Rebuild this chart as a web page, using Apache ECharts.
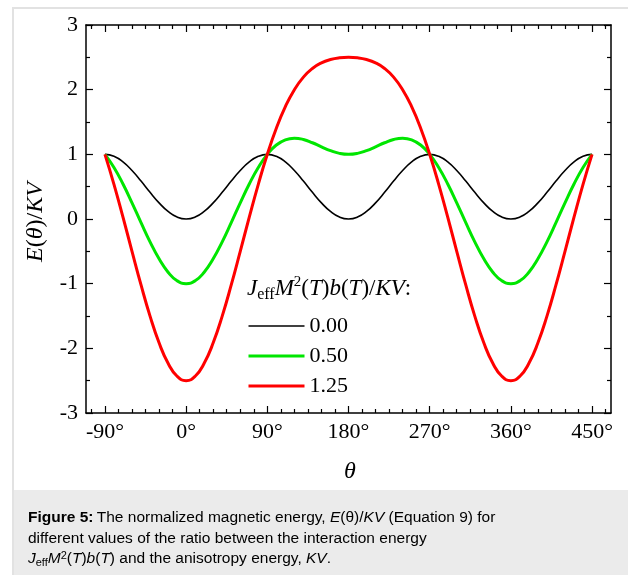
<!DOCTYPE html>
<html>
<head>
<meta charset="utf-8">
<script src="https://cdn.jsdelivr.net/npm/echarts@6/dist/echarts.min.js"></script>
<style>
html,body{margin:0;padding:0;background:#fff;}
#chart{width:628px;height:575px;}
</style>
</head>
<body>
<div id="chart"></div>
<script>
// ---- data ----
const theta = [-90,-80,-70,-60,-50,-40,-30,-20,-10,0,10,20,30,40,50,60,70,80,90,100,110,120,130,140,150,160,170,180,190,200,210,220,230,240,250,260,270,280,290,300,310,320,330,340,350,360,370,380,390,400,410,420,430,440,450];
const e000 = [1,0.970,0.883,0.75,0.587,0.413,0.25,0.117,0.030,0,0.030,0.117,0.25,0.413,0.587,0.75,0.883,0.970,1,0.970,0.883,0.75,0.587,0.413,0.25,0.117,0.030,0,0.030,0.117,0.25,0.413,0.587,0.75,0.883,0.970,1,0.970,0.883,0.75,0.587,0.413,0.25,0.117,0.030,0,0.030,0.117,0.25,0.413,0.587,0.75,0.883,0.970,1];
const e050 = [1,0.796,0.541,0.25,-0.056,-0.353,-0.616,-0.823,-0.955,-1,-0.955,-0.823,-0.616,-0.353,-0.056,0.25,0.541,0.796,1,1.144,1.225,1.25,1.230,1.179,1.116,1.057,1.015,1,1.015,1.057,1.116,1.179,1.230,1.25,1.225,1.144,1,0.796,0.541,0.25,-0.056,-0.353,-0.616,-0.823,-0.955,-1,-0.955,-0.823,-0.616,-0.353,-0.056,0.25,0.541,0.796,1];
const e125 = [1,0.536,0.028,-0.5,-1.020,-1.502,-1.915,-2.232,-2.432,-2.5,-2.432,-2.232,-1.915,-1.502,-1.020,-0.5,0.028,0.536,1,1.404,1.738,2.0,2.194,2.328,2.415,2.466,2.492,2.5,2.492,2.466,2.415,2.328,2.194,2.0,1.738,1.404,1,0.536,0.028,-0.5,-1.020,-1.502,-1.915,-2.232,-2.432,-2.5,-2.432,-2.232,-1.915,-1.502,-1.020,-0.5,0.028,0.536,1];
const seriesNames = ['0.00','0.50','1.25'];
const xMajorTicks = [-90,0,90,180,270,360,450];
const xTickLabels = ['-90°','0°','90°','180°','270°','360°','450°'];
const xMinorTicks = [-105,-75,-60,-45,-30,-15,15,30,45,60,75,105,120,135,150,165,195,210,225,240,255,285,300,315,330,345,375,390,405,420,435,465];
const yTickValues = [-3,-2,-1,0,1,2,3];

const SERIF = '"Liberation Serif","DejaVu Serif",serif';
const SANS = '"Liberation Sans",Arial,sans-serif';
const AX = '#000';

function zip(xs, ys){ return xs.map((x,i)=>[x, ys[i]]); }

const chart = echarts.init(document.getElementById('chart'), null, {renderer:'canvas'});

function xAxisCfg(pos, major, showLine, showLabel){
  return {
    type:'value', gridIndex:0, position:pos, min:-111, max:471,
    axisLine:{show:showLine, onZero:false, lineStyle:{color:AX, width:1.5}},
    axisTick:{show:true, inside:true, length: major?7:4, customValues: major? xMajorTicks : xMinorTicks, lineStyle:{color:AX, width:1.2}},
    axisLabel:{show:showLabel, customValues: xMajorTicks,
      formatter: v => xTickLabels[xMajorTicks.indexOf(v)],
      fontFamily:SERIF, fontSize:22, color:'#000', margin:8},
    splitLine:{show:false}, minorTick:{show:false}
  };
}
function yAxisCfg(pos, showLabel){
  return {
    type:'value', gridIndex:0, position:pos, min:-3, max:3, interval:1,
    axisLine:{show:true, onZero:false, lineStyle:{color:AX, width:1.5}},
    axisTick:{show:true, inside:true, length:7, lineStyle:{color:AX, width:1.2}},
    minorTick:{show:true, splitNumber:2, length:4, lineStyle:{color:AX, width:1.2}},
    axisLabel:{show:showLabel, fontFamily:SERIF, fontSize:22, color:'#000', margin:8,
      formatter: v => String(yTickValues[yTickValues.indexOf(v)])},
    splitLine:{show:false}, minorSplitLine:{show:false}
  };
}

const option = {
  backgroundColor:'#fff',
  animation:false,
  grid:{left:86, top:25, width:525, height:388, containLabel:false, outerBoundsMode:'none'},
  xAxis:[
    xAxisCfg('bottom', true, true, true),
    xAxisCfg('bottom', false, false, false),
    xAxisCfg('top', true, true, false),
    xAxisCfg('top', false, false, false)
  ],
  yAxis:[ yAxisCfg('left', true), yAxisCfg('right', false) ],
  legend:{
    data:seriesNames, orient:'vertical', left:247, top:315, padding:0,
    itemWidth:56, itemHeight:14, itemGap:8, selectedMode:false,
    itemStyle:{color:'rgba(0,0,0,0)', borderWidth:0},
    lineStyle:{width:'inherit'},
    textStyle:{fontFamily:SERIF, fontSize:22, color:'#000'}
  },
  series:[
    {name:seriesNames[0], type:'line', data:zip(theta,e000), smooth:true, symbol:'none', lineStyle:{color:'#000000', width:1.6}, itemStyle:{color:'#000000'}},
    {name:seriesNames[1], type:'line', data:zip(theta,e050), smooth:true, symbol:'none', lineStyle:{color:'#00e600', width:3}, itemStyle:{color:'#00e600'}},
    {name:seriesNames[2], type:'line', data:zip(theta,e125), smooth:true, symbol:'none', lineStyle:{color:'#ff0000', width:3}, itemStyle:{color:'#ff0000'}}
  ],
  graphic:[
    {type:'rect', z:-10, silent:true, shape:{x:13, y:8, width:630, height:590}, style:{fill:'#fff', stroke:'#e2e2e2', lineWidth:2}},
    {type:'rect', z:-9, silent:true, shape:{x:14, y:490, width:614, height:85}, style:{fill:'#ebebeb'}},
    // y axis title
    {type:'text', x:36, y:222, rotation:Math.PI/2, silent:true,
      style:{text:'{i|E}{n|(}{i|θ}{n|)/}{i|KV}', align:'center', verticalAlign:'middle',
        rich:{ i:{fontFamily:SERIF, fontStyle:'italic', fontSize:24, color:'#000'}, n:{fontFamily:SERIF, fontSize:24, color:'#000'} }}},
    // x axis title
    {type:'text', x:350, y:472, silent:true,
      style:{text:'θ', align:'center', verticalAlign:'middle', fontFamily:SERIF, fontStyle:'italic', fontSize:24, fill:'#000'}},
    // legend title
    {type:'text', x:247, y:289, silent:true,
      style:{text:'{i|J}{sub|eff}{i|M}{sup|2}{n|(}{i|T}{n|)}{i|b}{n|(}{i|T}{n|)/}{i|KV}{n|:}', align:'left', verticalAlign:'middle',
        rich:{
          i:{fontFamily:SERIF, fontStyle:'italic', fontSize:23, lineHeight:28, color:'#000'},
          n:{fontFamily:SERIF, fontSize:23, lineHeight:28, color:'#000'},
          sub:{fontFamily:SERIF, fontSize:16, lineHeight:2, verticalAlign:'bottom', color:'#000'},
          sup:{fontFamily:SERIF, fontSize:15, lineHeight:10, verticalAlign:'top', color:'#000'}
        }}},
    // caption
    {type:'text', x:28, y:518, silent:true,
      style:{text:'{b|Figure 5:} {n|The normalized magnetic energy, }{i|E}{n|(θ)/}{i|KV}{n| (Equation 9) for}', verticalAlign:'middle',
        rich:{ b:{fontFamily:SANS, fontWeight:'bold', fontSize:15.5, color:'#000'}, n:{fontFamily:SANS, fontSize:15.5, color:'#000'}, i:{fontFamily:SANS, fontStyle:'italic', fontSize:15.5, color:'#000'} }}},
    {type:'text', x:28, y:539, silent:true,
      style:{text:'different values of the ratio between the interaction energy', verticalAlign:'middle', fontFamily:SANS, fontSize:15.5, fill:'#000'}},
    {type:'text', x:28, y:559, silent:true,
      style:{text:'{i|J}{sub|eff}{i|M}{sup|2}{n|(}{i|T}{n|)}{i|b}{n|(}{i|T}{n|) and the anisotropy energy, }{i|KV}{n|.}', verticalAlign:'middle',
        rich:{
          n:{fontFamily:SANS, fontSize:15.5, lineHeight:18, color:'#000'},
          i:{fontFamily:SANS, fontStyle:'italic', fontSize:15.5, lineHeight:18, color:'#000'},
          sub:{fontFamily:SANS, fontSize:11, lineHeight:8, verticalAlign:'bottom', color:'#000'},
          sup:{fontFamily:SANS, fontSize:11, lineHeight:8, verticalAlign:'top', color:'#000'}
        }}}
  ]
};
chart.setOption(option);
</script>
</body>
</html>
